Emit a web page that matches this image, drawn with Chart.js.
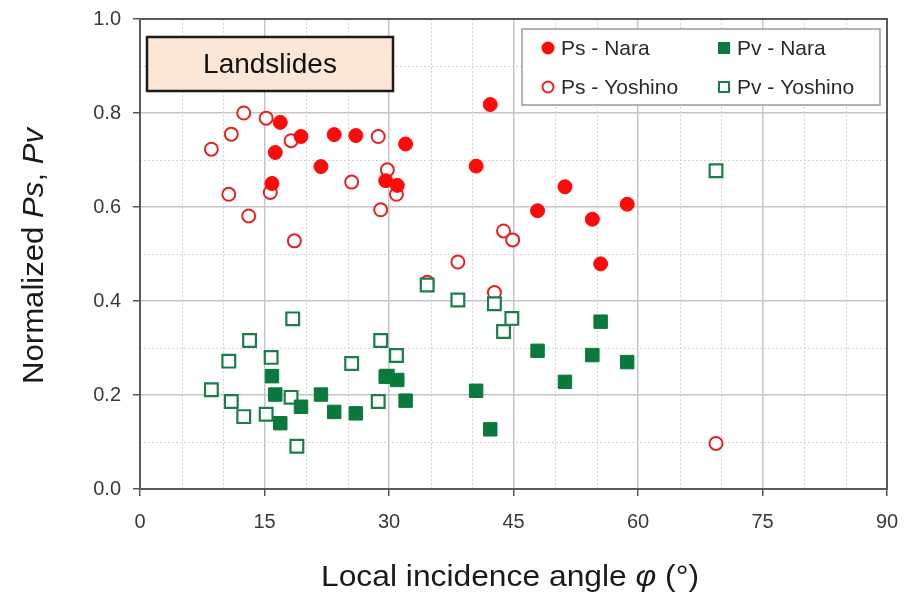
<!DOCTYPE html>
<html>
<head>
<meta charset="utf-8">
<script src="https://cdn.jsdelivr.net/npm/chart.js@4.4.1/dist/chart.umd.min.js"></script>
<style>
  body { margin: 0; background: #fff; }
  canvas { display: block; }
</style>
</head>
<body>
<canvas id="chart" width="904" height="601"></canvas>
<script>
// values
const naraAngle = [15.9, 16.3, 16.9, 19.4, 21.8, 23.4, 26.0, 29.6, 31.0, 32.0, 40.5, 42.2, 47.9, 51.2, 54.5, 55.5, 58.7];
const psNara = [0.650, 0.716, 0.780, 0.750, 0.686, 0.754, 0.752, 0.656, 0.646, 0.734, 0.687, 0.818, 0.592, 0.643, 0.574, 0.479, 0.606];
const pvNara = [0.240, 0.201, 0.140, 0.175, 0.201, 0.164, 0.161, 0.239, 0.232, 0.188, 0.209, 0.127, 0.294, 0.228, 0.285, 0.356, 0.270];

const psYoshinoAngle = [8.6, 10.7, 11.0, 12.5, 13.1, 15.2, 15.7, 18.2, 18.6, 25.5, 28.7, 29.0, 29.8, 30.9, 34.6, 38.3, 42.7, 43.8, 44.9, 69.4];
const psYoshino = [0.723, 0.627, 0.755, 0.800, 0.581, 0.789, 0.631, 0.741, 0.528, 0.653, 0.750, 0.594, 0.679, 0.627, 0.440, 0.483, 0.418, 0.549, 0.530, 0.097];

const pvYoshinoAngle = [8.6, 10.7, 11.0, 12.5, 13.2, 15.2, 15.8, 18.2, 18.4, 18.9, 25.5, 28.7, 29.0, 29.8, 30.9, 34.6, 38.3, 42.7, 43.8, 44.8, 69.4];
const pvYoshino = [0.211, 0.272, 0.186, 0.154, 0.316, 0.159, 0.280, 0.195, 0.362, 0.091, 0.267, 0.186, 0.316, 0.240, 0.284, 0.434, 0.402, 0.394, 0.335, 0.363, 0.677];

const xTicks = [0, 15, 30, 45, 60, 75, 90];
const yTicks = [0.0, 0.2, 0.4, 0.6, 0.8, 1.0];
const seriesNames = ['Ps - Nara', 'Pv - Nara', 'Ps - Yoshino', 'Pv - Yoshino'];

const RED = '#ff0a0a';
const RED_LINE = '#e52222';
const GREEN = '#0a7a3c';
const GREEN_LINE = '#1b7d4a';
const SANS = '"Liberation Sans", Arial, sans-serif';

const pts = (xs, ys) => xs.map((x, i) => ({ x: x, y: ys[i] }));

// draws a run of [text, fontPrefix] pieces squeezed to a given width, centred at 0,0
function drawRun(ctx, parts, size, width) {
    let total = 0;
    parts.forEach(p => { ctx.font = p[1] + size + 'px ' + SANS; p[2] = ctx.measureText(p[0]).width; total += p[2]; });
    ctx.scale(width / total, 1);
    let off = -total / 2;
    ctx.textAlign = 'left';
    ctx.textBaseline = 'middle';
    parts.forEach(p => { ctx.font = p[1] + size + 'px ' + SANS; ctx.fillText(p[0], off, 0); off += p[2]; });
}

// minor dotted grid, frame, box label, legend and axis titles
const decor = {
    id: 'decor',
    beforeDatasetsDraw(chart) {
        const { ctx, chartArea: a, scales: { x, y } } = chart;
        ctx.save();
        ctx.strokeStyle = '#d4d4d4';
        ctx.lineWidth = 1;
        ctx.setLineDash([2, 2]);
        for (let v = 5; v < 90; v += 15) {
            [v, v + 5].forEach(m => {
                const px = Math.round(x.getPixelForValue(m)) + 0.5;
                ctx.beginPath(); ctx.moveTo(px, a.top); ctx.lineTo(px, a.bottom); ctx.stroke();
            });
        }
        for (let v = 0.1; v < 1; v += 0.2) {
            const py = Math.round(y.getPixelForValue(v)) + 0.5;
            ctx.beginPath(); ctx.moveTo(a.left, py); ctx.lineTo(a.right, py); ctx.stroke();
        }
        ctx.setLineDash([]);
        ctx.strokeStyle = '#5a5a5a';
        ctx.lineWidth = 2;
        ctx.strokeRect(a.left, a.top, a.right - a.left, a.bottom - a.top);

        // "Landslides" box
        ctx.fillStyle = '#fce6d6';
        ctx.fillRect(147, 37, 246, 54);
        ctx.strokeStyle = '#1a1a1a';
        ctx.lineWidth = 2.5;
        ctx.strokeRect(147, 37, 246, 54);
        ctx.fillStyle = '#111';
        ctx.font = '28px ' + SANS;
        ctx.textAlign = 'center';
        ctx.textBaseline = 'middle';
        ctx.fillText('Landslides', 270, 65);
        ctx.restore();
    },
    afterDatasetsDraw(chart) {
        const { ctx, chartArea: a } = chart;
        ctx.save();
        // legend
        ctx.fillStyle = '#fff';
        ctx.fillRect(522, 29, 358, 76);
        ctx.strokeStyle = '#9a9a9a';
        ctx.lineWidth = 1.5;
        ctx.strokeRect(522, 29, 358, 76);
        const cells = [[548, 48], [724, 48], [548, 87], [724, 87]];
        chart.data.datasets.forEach(ds => {
            const k = seriesNames.indexOf(ds.label);
            const [cx, cy] = cells[k];
            ctx.fillStyle = ds.backgroundColor;
            ctx.strokeStyle = ds.borderColor;
            ctx.lineWidth = 2;
            if (ds.pointStyle === 'circle') {
                ctx.beginPath(); ctx.arc(cx, cy, 5.5, 0, Math.PI * 2); ctx.fill(); ctx.stroke();
            } else {
                ctx.fillRect(cx - 5, cy - 5, 10, 10); ctx.strokeRect(cx - 5, cy - 5, 10, 10);
            }
            ctx.fillStyle = '#2a2a2a';
            ctx.font = '21px ' + SANS;
            ctx.textAlign = 'left';
            ctx.textBaseline = 'middle';
            ctx.fillText(ds.label, cx + 13, cy + 1);
        });
        ctx.restore();

        // x title
        ctx.save();
        ctx.fillStyle = '#1a1a1a';
        ctx.translate(510, 578);
        drawRun(ctx, [['Local incidence angle ', ''], ['\u03c6', 'italic '], [' (\u00b0)', '']], 30, 378);
        ctx.restore();

        // y title with italic Ps, Pv
        ctx.save();
        ctx.fillStyle = '#1a1a1a';
        ctx.translate(35, 256);
        ctx.rotate(-Math.PI / 2);
        drawRun(ctx, [['Normalized ', ''], ['Ps', 'italic '], [', ', ''], ['Pv', 'italic ']], 29, 256);
        ctx.restore();
    }
};

new Chart(document.getElementById('chart'), {
    type: 'scatter',
    data: {
        datasets: [
            { label: 'Ps - Nara', data: pts(naraAngle, psNara), pointStyle: 'circle', pointRadius: 7, pointHoverRadius: 7,
              backgroundColor: RED, borderColor: RED, borderWidth: 1, order: 2 },
            { label: 'Pv - Nara', data: pts(naraAngle, pvNara), pointStyle: 'rect', pointRadius: 9.5, pointHoverRadius: 9.5,
              backgroundColor: GREEN, borderColor: GREEN, borderWidth: 1, order: 0 },
            { label: 'Ps - Yoshino', data: pts(psYoshinoAngle, psYoshino), pointStyle: 'circle', pointRadius: 6.5, pointHoverRadius: 6.5,
              backgroundColor: '#ffffff', borderColor: RED_LINE, borderWidth: 2, order: 3 },
            { label: 'Pv - Yoshino', data: pts(pvYoshinoAngle, pvYoshino), pointStyle: 'rect', pointRadius: 9, pointHoverRadius: 9,
              backgroundColor: '#ffffff', borderColor: GREEN_LINE, borderWidth: 2.2, order: 1 }
        ]
    },
    options: {
        responsive: false,
        animation: false,
        layout: { padding: { top: 19, right: 17, left: 0, bottom: 0 } },
        plugins: { legend: { display: false }, tooltip: { enabled: false } },
        scales: {
            x: {
                type: 'linear', min: 0, max: 90,
                afterBuildTicks: s => { s.ticks = xTicks.map(v => ({ value: v })); },
                afterFit: s => { s.height = 112; s.paddingLeft = 0; s.paddingRight = 0; },
                ticks: { color: '#3a3a3a', font: { family: SANS, size: 20 }, padding: 14 },
                grid: { color: '#c6c6c6', lineWidth: 1.5, tickLength: 7, tickColor: '#555', tickWidth: 1.5 },
                border: { display: false }
            },
            y: {
                type: 'linear', min: 0, max: 1,
                afterBuildTicks: s => { s.ticks = yTicks.map(v => ({ value: v })); },
                afterFit: s => { s.width = 140; s.paddingTop = 0; s.paddingBottom = 0; },
                ticks: { color: '#3a3a3a', font: { family: SANS, size: 20 }, padding: 12, callback: v => v.toFixed(1) },
                grid: { color: '#c6c6c6', lineWidth: 1.5, tickLength: 7, tickColor: '#555', tickWidth: 1.5 },
                border: { display: false }
            }
        }
    },
    plugins: [decor]
});
</script>
</body>
</html>
